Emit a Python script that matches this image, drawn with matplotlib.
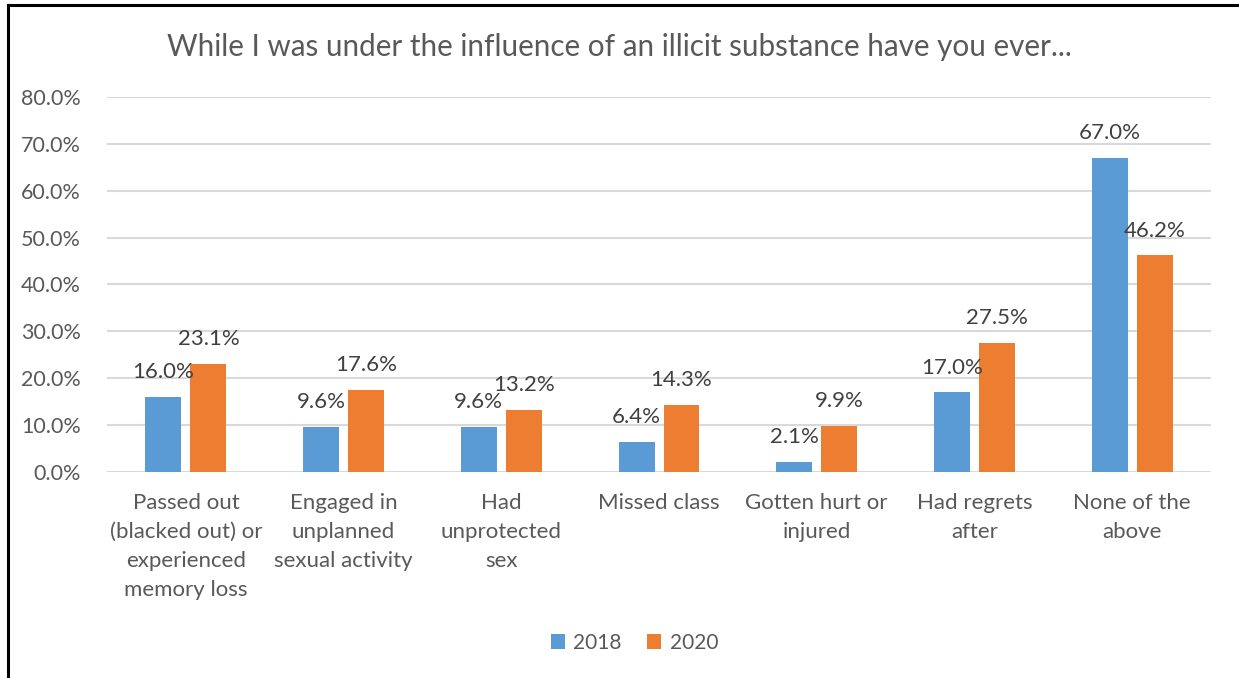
import numpy as np
import matplotlib.pyplot as plt
from matplotlib.lines import Line2D

plt.rcParams['font.family'] = ['Lato', 'DejaVu Sans']

categories = [
    'Passed out\n(blacked out) or\nexperienced\nmemory loss',
    'Engaged in\nunplanned\nsexual activity',
    'Had\nunprotected\nsex',
    'Missed class',
    'Gotten hurt or\ninjured',
    'Had regrets\nafter',
    'None of the\nabove',
]
pct_2018 = [16.0, 9.6, 9.6, 6.4, 2.1, 17.0, 67.0]
pct_2020 = [23.1, 17.6, 13.2, 14.3, 9.9, 27.5, 46.2]
yticks = [0, 10, 20, 30, 40, 50, 60, 70, 80]

text_col = '#595959'
blue = '#5B9BD5'
orange = '#ED7D31'

fig = plt.figure(figsize=(12.39, 6.78), dpi=100)
ax = fig.add_axes([0.0864, 0.3038, 0.891, 0.5532])

x = np.arange(len(categories))
w = 0.228
gap = 0.057
off = (w + gap) / 2
b1 = ax.bar(x - off, pct_2018, w, color=blue, label='2018', zorder=3)
b2 = ax.bar(x + off, pct_2020, w, color=orange, label='2020', zorder=3)

for bars, vals in ((b1, pct_2018), (b2, pct_2020)):
    for rect, v in zip(bars, vals):
        ax.annotate(f'{v:.1f}%', (rect.get_x() + rect.get_width() / 2, v),
                    xytext=(0, 13.5), textcoords='offset points',
                    ha='center', va='baseline', fontsize=16, color='#404040')

ax.set_ylim(0, 80)
ax.set_xlim(-0.5, len(categories) - 0.5)
ax.set_yticks(yticks)
ax.set_yticklabels([f'{t:.1f}%' for t in yticks], fontsize=15.5, color=text_col)
ax.set_xticks(x)
ax.set_xticklabels(categories, fontsize=16, color=text_col, linespacing=1.56, va='top')
ax.tick_params(axis='both', length=0)
ax.tick_params(axis='y', pad=19)
ax.tick_params(axis='x', pad=15)
ax.grid(axis='y', color='#D9D9D9', linewidth=1.5, zorder=0)
for s in ax.spines.values():
    s.set_visible(False)

fig.text(0.5, 0.93, 'While I was under the influence of an illicit substance have you ever...',
         ha='center', va='center', fontsize=21.3, color=text_col)

fig.legend(handles=[b1, b2], labels=['2018', '2020'], loc='center',
           bbox_to_anchor=(0.512, 0.052), ncol=2, frameon=False, fontsize=15,
           labelcolor=text_col, handlelength=0.7, handleheight=0.7,
           handletextpad=0.4, columnspacing=1.2)

# outer frame on the left and top edges
fig.add_artist(Line2D([0.0065, 0.0065], [0, 0.9926], color='black', linewidth=2.2,
                      transform=fig.transFigure))
fig.add_artist(Line2D([0.0065, 1.0], [0.9926, 0.9926], color='black', linewidth=2.2,
                      transform=fig.transFigure))

fig.savefig('out.png', dpi=100)
